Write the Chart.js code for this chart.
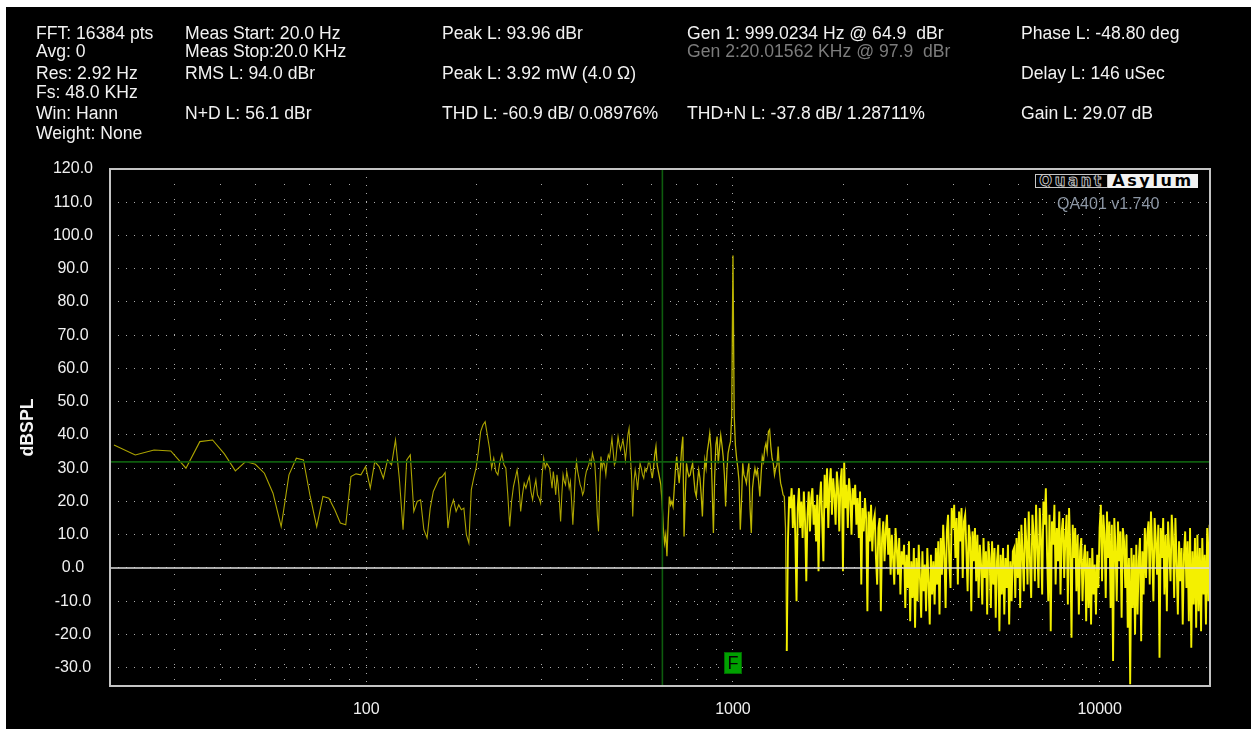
<!DOCTYPE html>
<html><head><meta charset="utf-8">
<script src="https://cdn.jsdelivr.net/npm/chart.js@4.4.1/dist/chart.umd.min.js"></script>
<style>
html,body{margin:0;padding:0;background:#fff;width:1251px;height:729px;overflow:hidden;}
#panel{position:absolute;left:6px;top:7px;width:1245px;height:722px;background:#000;}
#c{position:absolute;left:0;top:0;}
.t{position:absolute;font-family:"Liberation Sans",Arial,sans-serif;font-size:17.6px;line-height:20px;color:#f2f2f2;white-space:pre;}
.g{color:#7c7c7c;}
#logo{position:absolute;left:1035px;top:174px;height:14px;display:flex;}
#lq{box-sizing:border-box;width:73px;height:14px;border:1px solid #c8c8c8;background:#000;color:#000;-webkit-text-stroke:0.9px #c8c8c8;font:bold 15px "DejaVu Sans",sans-serif;letter-spacing:2.6px;line-height:12px;text-align:center;overflow:hidden;}
#la{box-sizing:border-box;width:90px;height:14px;background:#f2f2f2;color:#000;font:bold 16px "DejaVu Sans",sans-serif;line-height:14px;text-align:center;letter-spacing:2.6px;overflow:hidden;}
#ver{position:absolute;left:1057px;top:194.4px;font-family:"Liberation Sans",Arial,sans-serif;font-size:16px;line-height:20px;color:#8c96a4;white-space:pre;}
</style></head>
<body>
<div id="panel"><canvas id="c" width="1245" height="722"></canvas></div>

<div class="t" style="left:36px;top:22.9px">FFT: 16384 pts</div>
<div class="t" style="left:36px;top:41px">Avg: 0</div>
<div class="t" style="left:36px;top:62.5px">Res: 2.92 Hz</div>
<div class="t" style="left:36px;top:81.5px">Fs: 48.0 KHz</div>
<div class="t" style="left:36px;top:103.1px">Win: Hann</div>
<div class="t" style="left:36px;top:122.7px">Weight: None</div>

<div class="t" style="left:185px;top:22.9px">Meas Start: 20.0 Hz</div>
<div class="t" style="left:185px;top:41px">Meas Stop:20.0 KHz</div>
<div class="t" style="left:185px;top:62.5px">RMS L: 94.0 dBr</div>
<div class="t" style="left:185px;top:103.1px">N+D L: 56.1 dBr</div>

<div class="t" style="left:442px;top:22.9px">Peak L: 93.96 dBr</div>
<div class="t" style="left:442px;top:62.5px">Peak L: 3.92 mW (4.0 Ω)</div>
<div class="t" style="left:442px;top:103.1px">THD L: -60.9 dB/ 0.08976%</div>

<div class="t" style="left:687px;top:22.9px">Gen 1: 999.0234 Hz @ 64.9  dBr</div>
<div class="t g" style="left:687px;top:41px">Gen 2:20.01562 KHz @ 97.9  dBr</div>
<div class="t" style="left:687px;top:103.1px">THD+N L: -37.8 dB/ 1.28711%</div>

<div class="t" style="left:1021px;top:22.9px">Phase L: -48.80 deg</div>
<div class="t" style="left:1021px;top:62.5px">Delay L: 146 uSec</div>
<div class="t" style="left:1021px;top:103.1px">Gain L: 29.07 dB</div>

<div id="logo"><span id="lq">Quant</span><span id="la">Asylum</span></div>
<div id="ver">QA401 v1.740</div>

<script>
// ---- data ----
const binHz = 48000 / 16384;          // FFT resolution (2.93 Hz)
const lowBinStart = 7;                // first bin shown (20.5 Hz)
// levels (dB) of bins 7..106
const lowLevels = [
  37, 34, 35.5, 35.2, 30, 38, 38.5, 34.3, 29.2, 32,
  31.2, 28.5, 22.5, 12.4, 28, 33, 32.5, 21.5, 12.4, 21.5,
  21, 17.5, 13.5, 13, 27.5, 28.3, 28, 30.5, 24, 32,
  30.5, 27, 32.5, 31, 38.5, 27, 11.5, 32.5, 34, 17,
  20, 20.5, 11.5, 9, 18, 23, 25, 27, 27.5, 28.7,
  12, 18, 20.5, 17, 19, 17.5, 18, 10, 7.5, 23.5,
  27, 30, 35, 41, 43, 44, 40, 36, 30, 33,
  29, 28, 32, 34.3, 31, 30, 22, 12.5, 20, 24.5,
  27, 29.5, 25, 17, 22, 25.5, 24, 26, 27.5, 23,
  20.5, 24, 26.5, 22, 21, 19.5, 28, 33, 30, 31.5
];
// above ~316 Hz the dense spectrum is read on a log grid, 300 points per decade
const gridStartHz = 316.2278;
const gridPerDecade = 300;
const gridLevels = [
  30, 27, 24, 29, 26, 22, 28, 25, 20, 14,
  22, 28, 26, 25, 29, 27, 24, 26, 20, 13,
  20, 28, 32, 29, 27, 25, 24, 22, 23, 27,
  29, 30, 31, 32.5, 31, 34.5, 33, 31, 25, 16,
  11, 24, 33.5, 30, 32, 31, 28, 32, 34, 33,
  36, 39, 35, 31, 32, 36, 39.5, 37, 35.5, 37,
  38.5, 36, 32.5, 36, 40, 42, 34, 28, 15.5, 26,
  29.5, 27, 23.5, 28, 31.5, 30, 28, 27, 30, 29,
  30, 32, 31.5, 29, 27, 30, 34, 36.5, 31, 29,
  27, 25, 20, 12, 7.5, 10, 3.5, 14, 21.5, 19,
  20, 18.5, 24, 30, 33.5, 29, 25.5, 30, 36, 39.5,
  9.5, 22, 31.5, 29, 27.5, 28, 30, 31.5, 27, 23,
  21.5, 26, 29.5, 27, 22, 15.5, 26, 32.5, 30, 35,
  37.5, 40.5, 36, 24, 10.5, 27, 37, 39.5, 31.5, 36,
  40, 37, 33.5, 28, 18.5, 29, 34.5, 36.5, 38, 46,
  93.96, 46, 37, 33, 30, 26, 11.5, 20, 31.5, 28,
  27, 25.5, 29, 31.5, 18, 10.5, 24, 27.5, 30, 28,
  29.5, 26, 21.5, 28, 33.5, 32, 36, 37.5, 35, 41,
  41.6, 36.5, 33, 31.5, 28, 30, 31, 36.5, 29, 25.5,
  24, 22, 21.5, 12, -25, 8, 21.5, 18, 24, 12,
  22, 10, -10, 18, 24, 12, 20, 9, 23, 14,
  -4, 16, 23, 11, 21, 24, 13, 19, 8, 22,
  -1, 20, 26, 14, 2, 28, 18, 30, 12, 25,
  30, 16, 27, 22, 13, 29, 24, 11, 26, 30,
  -1, 32, 18, 25, 12, 27, 22, 10, 24, 19,
  25, 13, 21, 9, 23, -5, 18, 11, 21, 15,
  -13, 17, 8, 19, 5, 14, 16, 3, -5, 12,
  15, -13, 9, 14, 2, 11, 16, 4, 12, -2,
  10, 3, -5, 12, 6, -2, 9, -8, 5, 1,
  7, -12, 4, -6, 8, -16, 2, -9, 6, -18,
  3, -10, 7, -3, -15, 5, -7, 1, -13, 6,
  -4, -17, 4, -8, 2, -11, 6, -5, 8, -14,
  9, -2, 13, 4, -12, 11, 16, 2, -6, 18,
  12, 19, 3, 15, -5, 17, 8, 18, -3, 14,
  16, 5, -7, 13, 9, -13, 11, 2, 12, -4,
  10, -9, 7, 1, -11, 9, -3, 5, -14, 8,
  3, -12, 8, -5, 6, -15, 2, 7, -19, 4,
  -8, 6, -14, 3, -6, 7, -17, 2, -10, 5,
  6, -9, 9, -3, 11, -12, 13, 4, -7, 15,
  8, -5, 17, 2, -9, 16, 10, -4, 19, 6,
  -6, 18, 9, -8, 20, 13, 24, 4, -10, 16,
  -19, 14, 7, 19, -5, 12, 2, 17, -8, 11,
  15, -3, 9, 16, -11, 18, 6, -21, 13, 3,
  12, -7, 10, -14, 5, 9, -10, 2, 7, -16,
  5, -12, 3, -17, 6, -8, 1, -14, 4, -6,
  12, 19, -4, 16, 10, -9, 17, 3, 14, -12,
  13, -28, 15, 6, -10, 14, 2, 11, -15, 12,
  8, -6, 10, -18, 3, -35, 6, -12, 4, -20,
  7, -14, 2, 9, -22, 5, -8, 12, -3, 10,
  14, -5, 17, 6, -10, 15, 8, -2, 13, -27,
  12, 3, 15, -8, 10, -13, 14, 5, -4, 16,
  9, -9, 15, 2, -14, 8, -4, 6, -17, 4,
  11, -6, 8, -16, 12, -24, 5, -11, 9, -18,
  10, -13, 6, -19, 9, -8, 4, -17, 12, -10, 13
];
const midFromHz = 600;                // trace gets busier above this
const denseFromHz = 1400;             // above this the trace is a solid band
const xMin = 20, xMax = 20000;
const yMin = -35.5, yMax = 120;
const xGridFreqs = [20,30,40,50,60,70,80,90,100,200,300,400,500,600,700,800,900,
                    1000,2000,3000,4000,5000,6000,7000,8000,9000,10000,20000];
const xDecades = [100, 1000, 10000];
const xLabelFreqs = [100, 1000, 10000];
const yTicks = [-30,-20,-10,0,10,20,30,40,50,60,70,80,90,100,110,120];
const zeroRef = 0;
const cursorLevel = 31.9;
const cursorFreq = 642;
const markerFreq = 1000;
const markerLevel = -28.6;
const markerText = 'F';

// ---- build ----
const trace = [];
lowLevels.forEach((v, i) => trace.push({x: (lowBinStart + i) * binHz, y: v}));
gridLevels.forEach((v, i) => trace.push({x: gridStartHz * Math.pow(10, i / gridPerDecade), y: v}));

const FONT = '"Liberation Sans", Arial, sans-serif';

const framePlugin = {
  id: 'frame',
  afterDraw(chart) {
    const {ctx, chartArea: a, scales: {x, y}} = chart;
    ctx.save();
    // F marker
    const px = x.getPixelForValue(markerFreq), py = y.getPixelForValue(markerLevel);
    ctx.fillStyle = '#00a000';
    ctx.fillRect(Math.round(px) - 9, Math.round(py) - 11, 18, 22);
    ctx.strokeStyle = '#006a00';
    ctx.lineWidth = 1;
    ctx.strokeRect(Math.round(px) - 8.5, Math.round(py) - 10.5, 17, 21);
    ctx.fillStyle = '#050505';
    ctx.font = '18px ' + FONT;
    ctx.textAlign = 'center';
    ctx.textBaseline = 'middle';
    ctx.fillText(markerText, px, py + 1);
    // plot frame
    ctx.strokeStyle = '#c4c4c4';
    ctx.lineWidth = 2;
    ctx.strokeRect(a.left, a.top, a.right - a.left, a.bottom - a.top);
    ctx.restore();
  }
};

new Chart(document.getElementById('c'), {
  type: 'line',
  data: {
    datasets: [
      {data: [{x: xMin, y: zeroRef}, {x: xMax, y: zeroRef}], borderColor: '#dedede', borderWidth: 1.6, pointRadius: 0, order: 1},
      {data: [{x: xMin, y: cursorLevel}, {x: xMax, y: cursorLevel}], borderColor: '#0e5c0e', borderWidth: 1.6, pointRadius: 0, order: 1},
      {data: [{x: cursorFreq, y: yMin}, {x: cursorFreq, y: yMax}], borderColor: '#0e5c0e', borderWidth: 1.6, pointRadius: 0, order: 1},
      {data: trace, borderColor: '#aca400', borderWidth: 1.1, pointRadius: 0, tension: 0, order: 2,
       segment: {
         borderColor: c => c.p0.parsed.x >= denseFromHz ? '#f4f000' : (c.p0.parsed.x >= midFromHz ? '#bcb400' : '#aca400'),
         borderWidth: c => c.p0.parsed.x >= denseFromHz ? 1.9 : (c.p0.parsed.x >= midFromHz ? 1.3 : 1.1)
       }}
    ]
  },
  options: {
    responsive: false,
    animation: false,
    events: [],
    layout: {padding: {top: 162, right: 41, left: 0, bottom: 0}},
    plugins: {legend: {display: false}, tooltip: {enabled: false}},
    scales: {
      x: {
        type: 'logarithmic', min: xMin, max: xMax, position: 'bottom',
        afterBuildTicks: s => { s.ticks = xGridFreqs.map(v => ({value: v})); },
        afterFit: s => { s.height = 43; },
        grid: {color: '#ababab', lineWidth: 1, drawTicks: false},
        border: {display: false, dash: c => (c.tick && xDecades.includes(c.tick.value)) ? [1, 7] : [1, 14]},
        ticks: {autoSkip: false, maxRotation: 0, minRotation: 0, padding: 14, color: '#f0f0f0',
                font: {family: FONT, size: 16},
                callback: v => xLabelFreqs.includes(v) ? String(v) : ''}
      },
      y: {
        type: 'linear', min: yMin, max: yMax,
        afterBuildTicks: s => { s.ticks = yTicks.map(v => ({value: v})); },
        afterFit: s => { s.width = 104; },
        grid: {color: '#ababab', lineWidth: 1, drawTicks: false},
        border: {display: false, dash: [1, 7]},
        ticks: {crossAlign: 'center', padding: 17, color: '#f0f0f0',
                font: {family: FONT, size: 16},
                callback: v => Number(v).toFixed(1)},
        title: {display: true, text: 'dBSPL', color: '#f4f4f4',
                font: {family: FONT, size: 17.7, weight: 'bold'},
                padding: {top: 11.4, bottom: 0}}
      }
    }
  },
  plugins: [framePlugin]
});
</script>
</body></html>
